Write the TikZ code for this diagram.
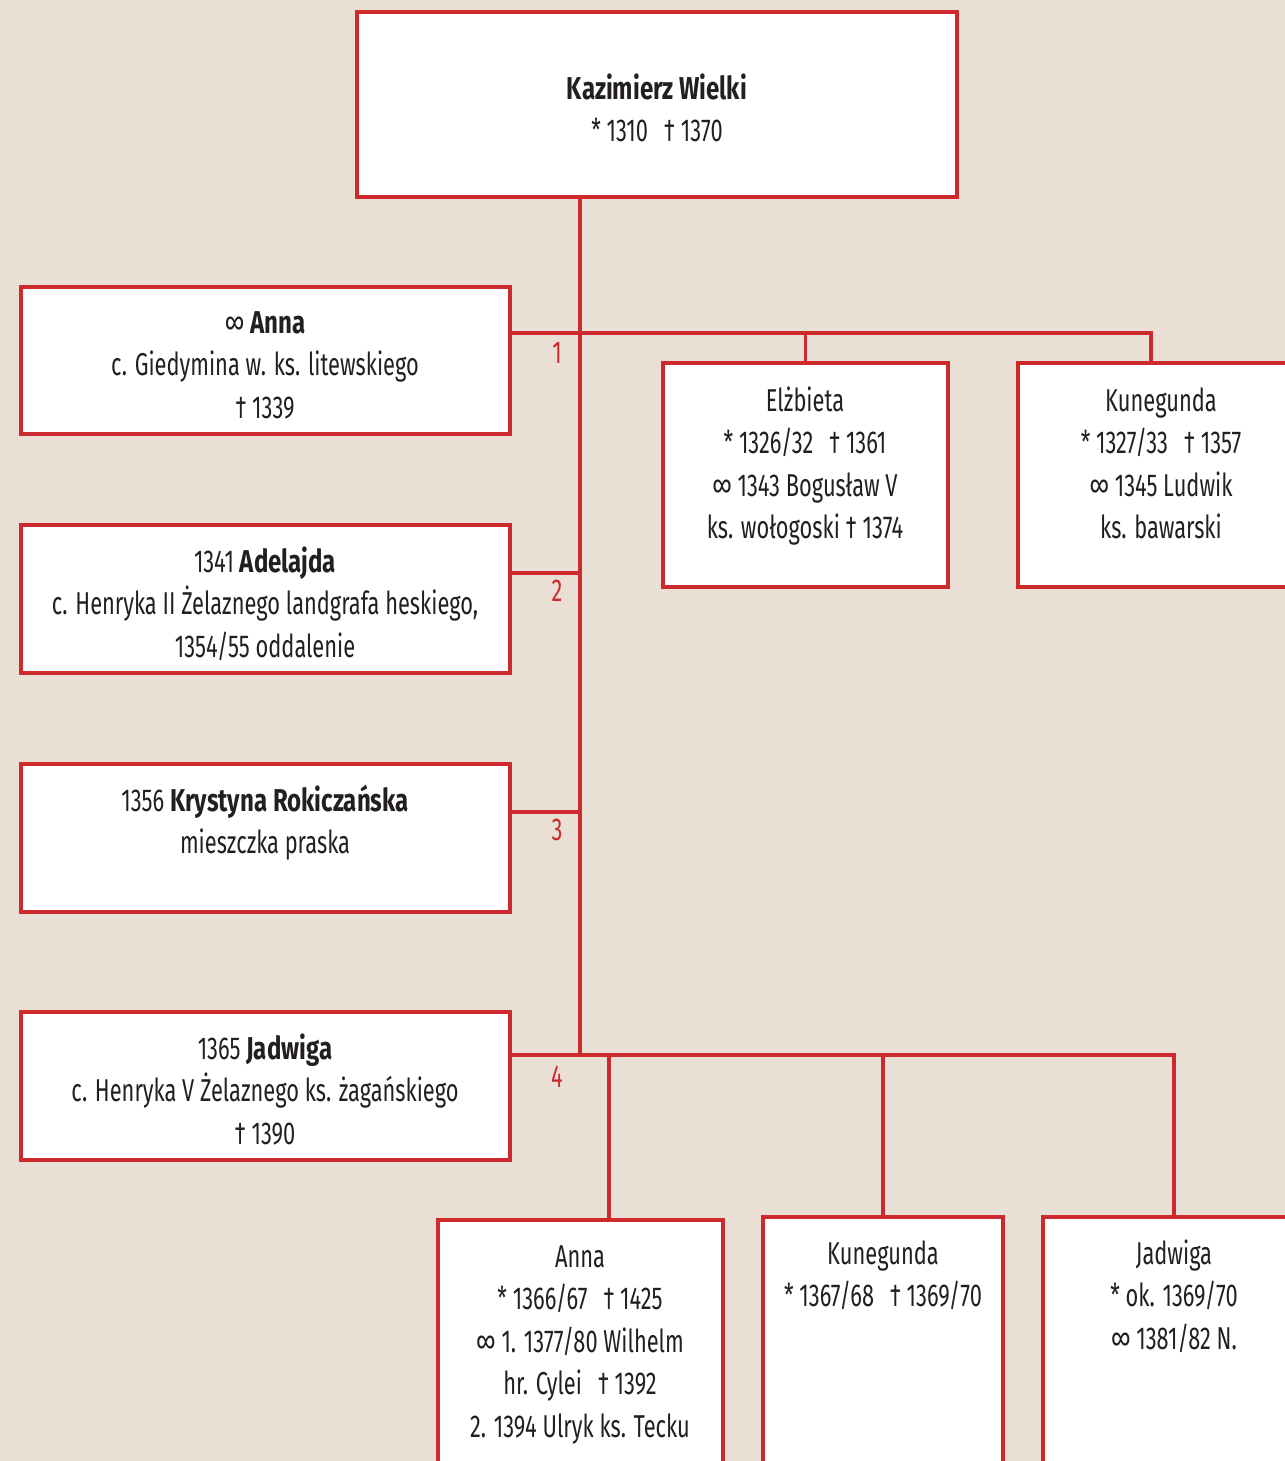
\documentclass[tikz,border=0pt]{standalone}
\usepackage{fontspec}
\setmainfont{Fira Sans}[FakeStretch=0.69,BoldFeatures={FakeStretch=0.76}]
\usetikzlibrary{fit}
\usetikzlibrary{positioning}

\definecolor{czerwony}{RGB}{204,42,44}
\definecolor{papier}{RGB}{233,223,212}
\definecolor{tusz}{RGB}{35,31,32}

\tikzset{
    osoba/.style={rectangle,draw=czerwony,fill=white,line width=2pt,inner sep=0pt},
    tekst/.style={anchor=north,align=center,inner sep=0pt,text=tusz,font=\fontsize{18}{24.2}\selectfont},
    linia/.style={draw=czerwony,line width=2pt},
    numer/.style={text=czerwony,font=\fontsize{18}{24.2}\selectfont}
}

\begin{document}
\begin{tikzpicture}[x=0.02cm,y=-0.02cm]
        \fill[papier] (0,0) rectangle (1285,1461);
        \useasboundingbox (0,0) rectangle (1285,1461);
        \clip (0,0) rectangle (1285,1461);

        % boxes
        \node[osoba,fit={(357,12) (957,197)}] (kazimierz) {};
        \node[osoba,fit={(21,287) (510,434)}] (anna) {};
        \node[osoba,fit={(21,525) (510,673)}] (adelajda) {};
        \node[osoba,fit={(21,764) (510,912)}] (krystyna) {};
        \node[osoba,fit={(21,1012) (510,1160)}] (jadwiga) {};
        \node[osoba,fit={(663,363) (948,587)}] (elzbieta) {};
        \node[osoba,fit={(1018,363) (1300,587)}] (kunegunda) {};
        \node[osoba,fit={(438,1220) (723,1480)}] (c_anna) {};
        \node[osoba,fit={(763,1217) (1003,1480)}] (c_kunegunda) {};
        \node[osoba,fit={(1043,1217) (1305,1480)}] (c_jadwiga) {};

        % texts
        \node[tekst] (kazimierz_t) at (657,69) {\strut\textbf{Kazimierz Wielki}\\ * 1310\hspace{9pt}† 1370};
        \node[tekst] (anna_t) at (265,303) {\strut∞ \textbf{Anna}\\ c. Giedymina w. ks. litewskiego\\ † 1339};
        \node[tekst] (adelajda_t) at (265,542) {\strut1341 \textbf{Adelajda}\\ c. Henryka II Żelaznego landgrafa heskiego,\\ 1354/55 oddalenie};
        \node[tekst] (krystyna_t) at (265,781) {\strut1356 \textbf{Krystyna Rokiczańska}\\ mieszczka praska};
        \node[tekst] (jadwiga_t) at (265,1029) {\strut1365 \textbf{Jadwiga}\\ c. Henryka V Żelaznego ks. żagańskiego\\ † 1390};
        \node[tekst] (elzbieta_t) at (805,381) {\strut Elżbieta\\ * 1326/32\hspace{9pt}† 1361\\ ∞ 1343 Bogusław V\\ ks. wołogoski † 1374};
        \node[tekst] (kunegunda_t) at (1161,381) {\strut Kunegunda\\ * 1327/33\hspace{9pt}† 1357\\ ∞ 1345 Ludwik\\ ks. bawarski};
        \node[tekst] (c_anna_t) at (580,1237) {\strut Anna\\ * 1366/67\hspace{9pt}† 1425\\ ∞ 1. 1377/80 Wilhelm\\ hr. Cylei\hspace{9pt}† 1392\\ 2. 1394 Ulryk ks. Tecku};
        \node[tekst] (c_kunegunda_t) at (883,1234) {\strut Kunegunda\\ * 1367/68\hspace{9pt}† 1369/70};
        \node[tekst] (c_jadwiga_t) at (1174,1234) {\strut Jadwiga\\ * ok. 1369/70\\ ∞ 1381/82 N.};

        % marriage numbers
        \node[numer] (n1) at (557,353) {1};
        \node[numer] (n2) at (557,591) {2};
        \node[numer] (n3) at (557,830) {3};
        \node[numer] (n4) at (557,1077) {4};

        % junctions
        \coordinate (w1) at (580,333);
        \coordinate (w2) at (580,573);
        \coordinate (w3) at (580,812);
        \coordinate (w4) at (580,1055);
        \coordinate (k1) at (1151,333);
        \coordinate (k2) at (609,1055);
        \coordinate (k3) at (1174,1055);

        \draw[linia] (kazimierz.south -| w1) -- (w4);
        \draw[linia] (anna.east |- w1) -- (k1) -- (k1 |- kunegunda.north);
        \draw[linia] (elzbieta.north) -- (elzbieta.north |- w1);
        \draw[linia] (adelajda.east |- w2) -- (w2);
        \draw[linia] (krystyna.east |- w3) -- (w3);
        \draw[linia] (jadwiga.east |- w4) -- (k3) -- (c_jadwiga.north);
        \draw[linia] (k2) -- (k2 |- c_anna.north);
        \draw[linia] (c_kunegunda.north) -- (c_kunegunda.north |- w4);

\end{tikzpicture}
\end{document}
